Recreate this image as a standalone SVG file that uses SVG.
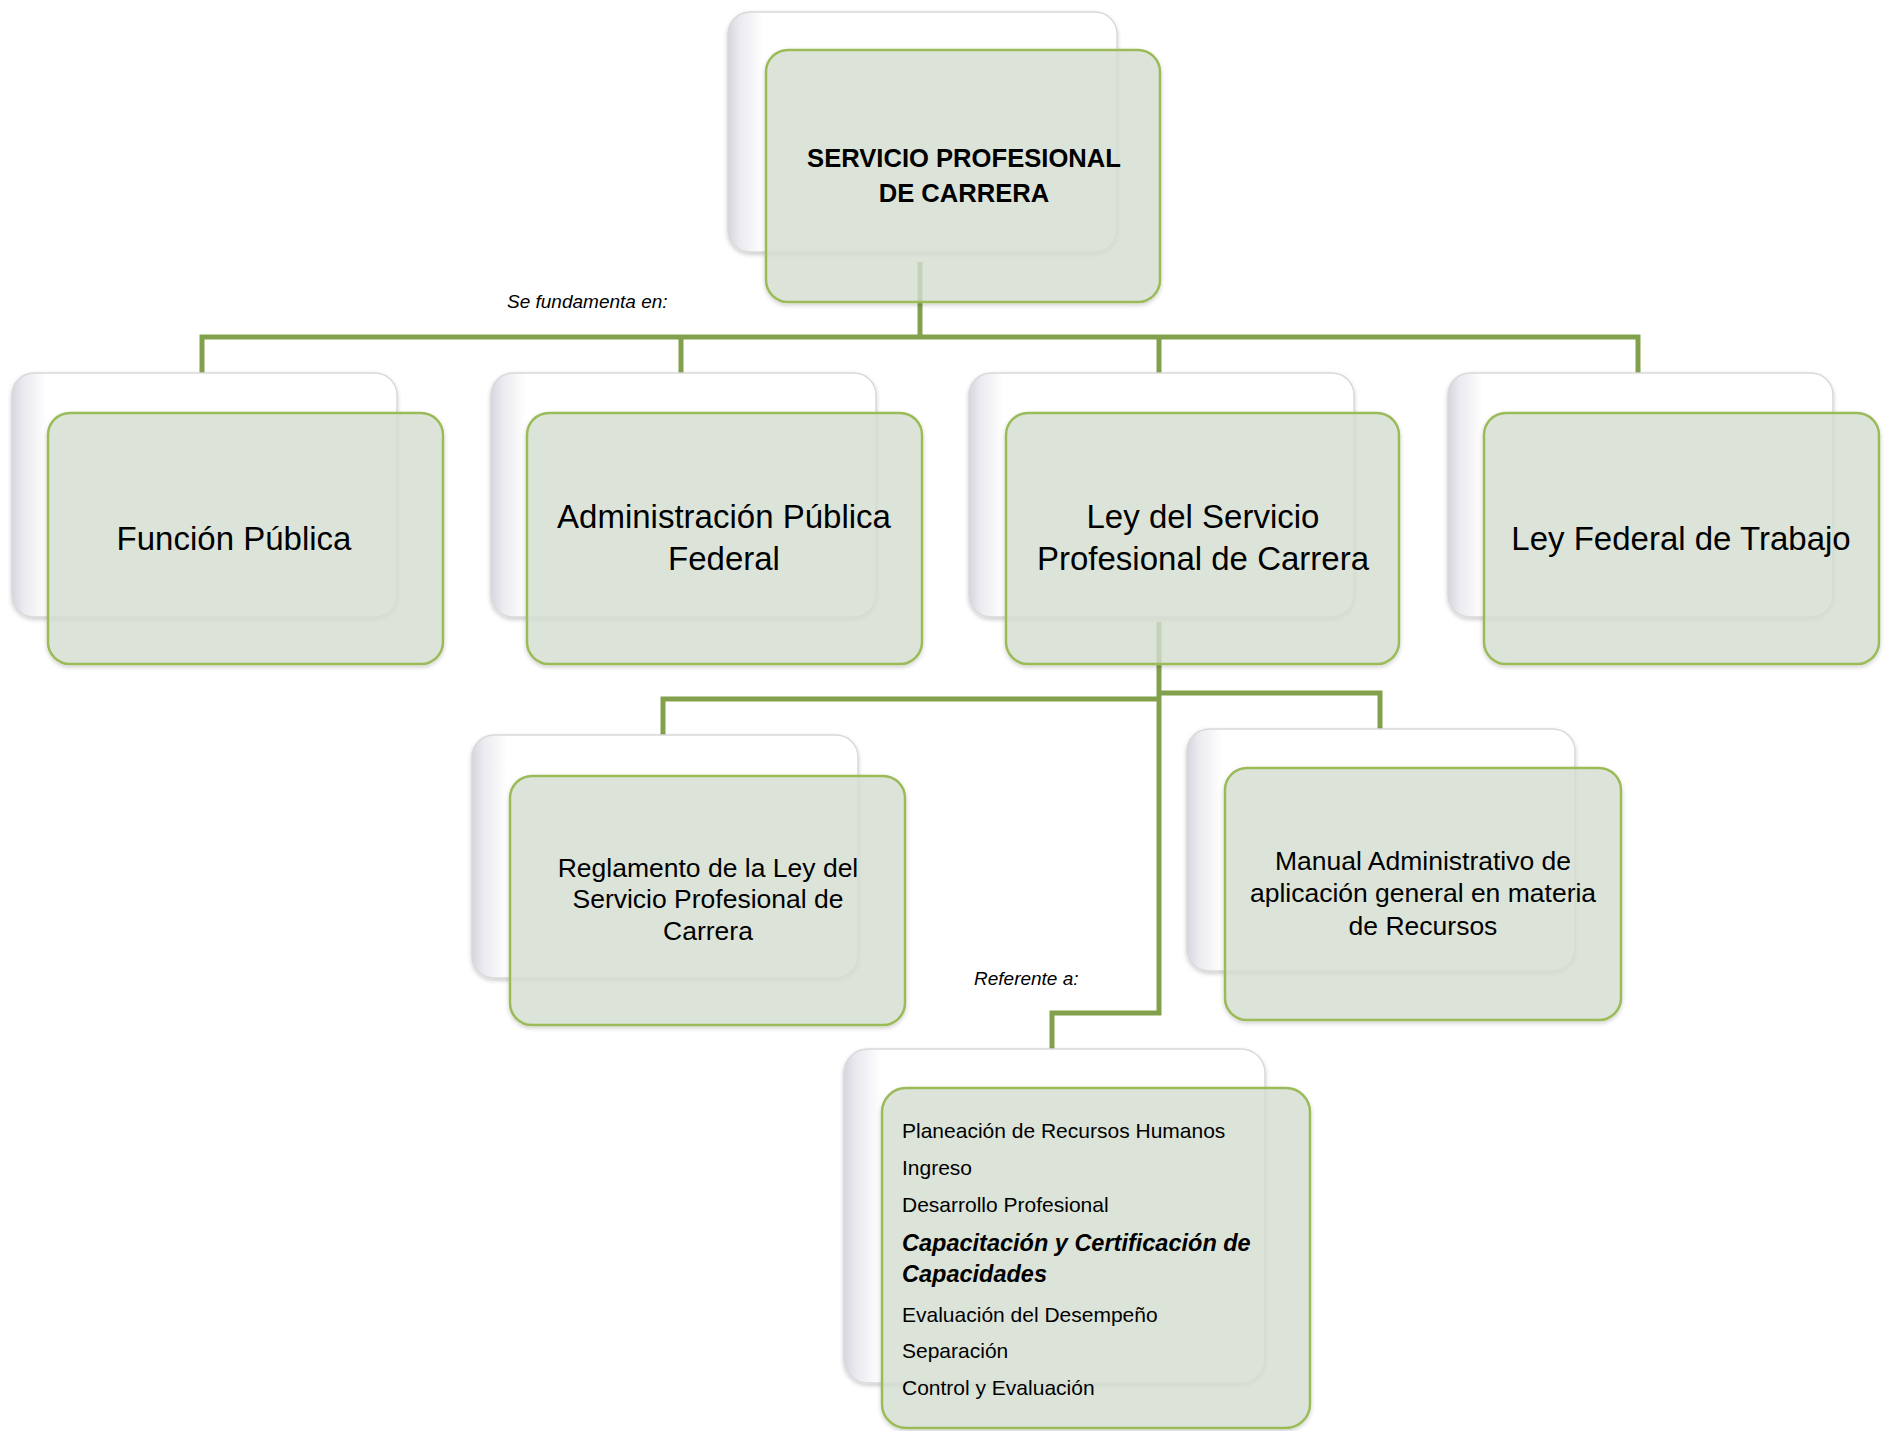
<svg xmlns="http://www.w3.org/2000/svg" width="1887" height="1431" viewBox="0 0 1887 1431">
<defs>
<linearGradient id="backGrad" x1="0" y1="0" x2="1" y2="0">
<stop offset="0" stop-color="#d6d6e0"/>
<stop offset="0.03" stop-color="#eaeaf0"/>
<stop offset="0.09" stop-color="#ffffff"/>
<stop offset="1" stop-color="#ffffff"/>
</linearGradient>
<filter id="sh" x="-5%" y="-5%" width="110%" height="115%">
<feDropShadow dx="0" dy="2" stdDeviation="2" flood-color="#000" flood-opacity="0.2"/>
</filter>
</defs>
<style>
.back{fill:url(#backGrad);stroke:#d9d9d9;stroke-width:1.5;filter:url(#sh)}
.front{fill:#d8e2d5;fill-opacity:0.78;stroke:#9bbb59;stroke-width:2.5;filter:url(#sh)}
.conn{fill:none;stroke:#83a04c;stroke-width:5;stroke-linejoin:miter;stroke-linecap:butt}
text{font-family:"Liberation Sans",Arial,sans-serif;fill:#000}
.t1{font-size:25.6px;font-weight:bold;text-anchor:middle}
.t2{font-size:33px;text-anchor:middle}
.t3{font-size:26.5px;text-anchor:middle}
.li{font-size:21px}
.lb{font-size:23.5px;font-weight:bold;font-style:italic}
.lab{font-size:19px;font-style:italic}
</style>
<rect width="1887" height="1431" fill="#ffffff"/>

<g id="connectors">
<path class="conn" d="M920,262 V337"/>
<path class="conn" d="M202,373 V337 H1638 V373"/>
<path class="conn" d="M681,337 V373"/>
<path class="conn" d="M1159,337 V373"/>
<path class="conn" d="M1159,622 V1013 H1052 V1049"/>
<path class="conn" d="M1159,699 H663 V735"/>
<path class="conn" d="M1159,693 H1380 V729"/>
</g>

<g id="labels">
<text class="lab" x="507" y="308">Se fundamenta en:</text>
<text class="lab" x="974" y="985">Referente a:</text>
</g>

<g id="node-servicio">
<rect class="back" x="728" y="12" width="389" height="240" rx="22"/>
<rect class="front" x="766" y="50" width="394" height="252" rx="22"/>
<text class="t1" x="964" y="167">SERVICIO PROFESIONAL</text>
<text class="t1" x="964" y="202">DE CARRERA</text>
</g>

<g id="node-funcion">
<rect class="back" x="12" y="373" width="385" height="244" rx="22"/>
<rect class="front" x="48" y="413" width="395" height="251" rx="22"/>
<text class="t2" x="234" y="550">Función Pública</text>
</g>

<g id="node-administracion">
<rect class="back" x="491" y="373" width="385" height="244" rx="22"/>
<rect class="front" x="527" y="413" width="395" height="251" rx="22"/>
<text class="t2" x="724" y="528">Administración Pública</text>
<text class="t2" x="724" y="570">Federal</text>
</g>

<g id="node-ley-servicio">
<rect class="back" x="969" y="373" width="385" height="244" rx="22"/>
<rect class="front" x="1006" y="413" width="393" height="251" rx="22"/>
<text class="t2" x="1203" y="528">Ley del Servicio</text>
<text class="t2" x="1203" y="570">Profesional de Carrera</text>
</g>

<g id="node-ley-federal">
<rect class="back" x="1448" y="373" width="385" height="244" rx="22"/>
<rect class="front" x="1484" y="413" width="395" height="251" rx="22"/>
<text class="t2" x="1681" y="550">Ley Federal de Trabajo</text>
</g>

<g id="node-reglamento">
<rect class="back" x="472" y="735" width="386" height="243" rx="22"/>
<rect class="front" x="510" y="776" width="395" height="249" rx="22"/>
<text class="t3" x="708" y="877">Reglamento de la Ley del</text>
<text class="t3" x="708" y="908">Servicio Profesional de</text>
<text class="t3" x="708" y="940">Carrera</text>
</g>

<g id="node-manual">
<rect class="back" x="1187" y="729" width="388" height="242" rx="22"/>
<rect class="front" x="1225" y="768" width="396" height="252" rx="22"/>
<text class="t3" x="1423" y="870">Manual Administrativo de</text>
<text class="t3" x="1423" y="902">aplicación general en materia</text>
<text class="t3" x="1423" y="935">de Recursos</text>
</g>

<g id="node-referente">
<rect class="back" x="844" y="1049" width="421" height="334" rx="24"/>
<rect class="front" x="882" y="1088" width="428" height="340" rx="24"/>
<text class="li" x="902" y="1138">Planeación de Recursos Humanos</text>
<text class="li" x="902" y="1175">Ingreso</text>
<text class="li" x="902" y="1212">Desarrollo Profesional</text>
<text class="lb" x="902" y="1251">Capacitación y Certificación de</text>
<text class="lb" x="902" y="1282">Capacidades</text>
<text class="li" x="902" y="1322">Evaluación del Desempeño</text>
<text class="li" x="902" y="1358">Separación</text>
<text class="li" x="902" y="1395">Control y Evaluación</text>
</g>
</svg>
